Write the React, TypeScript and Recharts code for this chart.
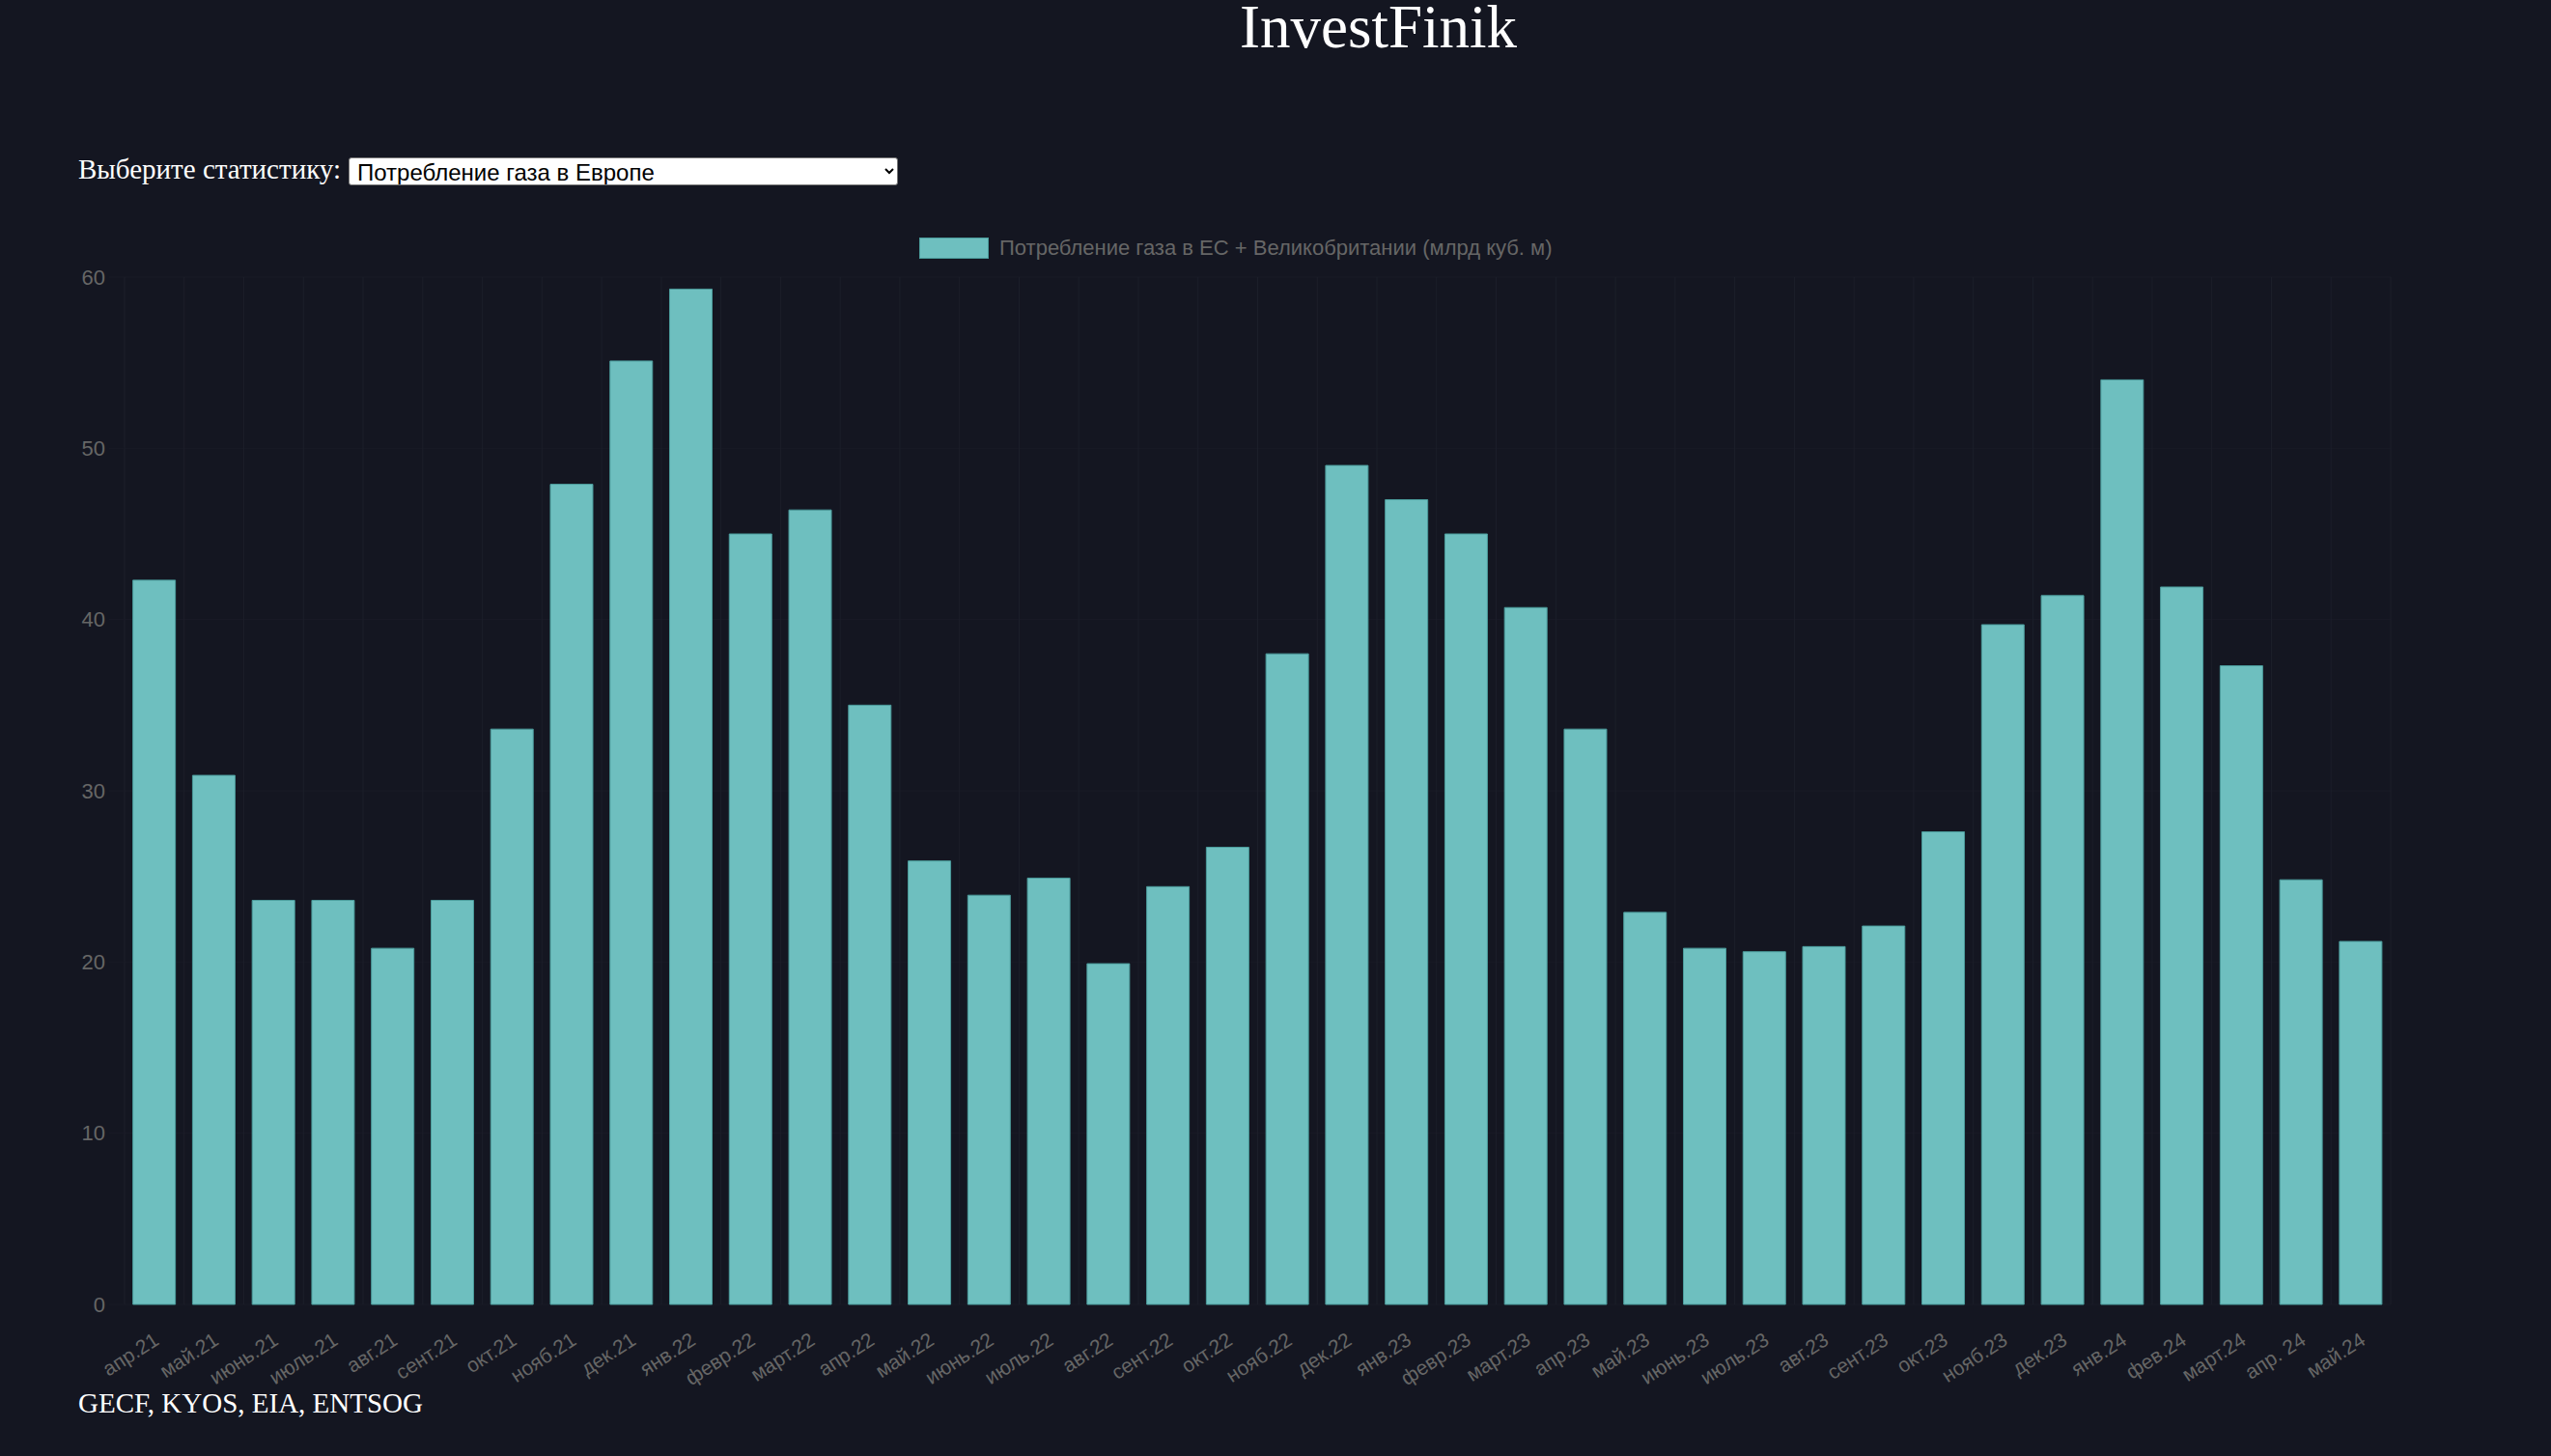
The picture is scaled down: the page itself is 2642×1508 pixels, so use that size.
import React from "react";
import { BarChart, Bar, XAxis, YAxis, CartesianGrid } from "recharts";

const months = [
  "апр.21", "май.21", "июнь.21", "июль.21", "авг.21", "сент.21", "окт.21", "нояб.21", "дек.21",
  "янв.22", "февр.22", "март.22", "апр.22", "май.22", "июнь.22", "июль.22", "авг.22", "сент.22",
  "окт.22", "нояб.22", "дек.22", "янв.23", "февр.23", "март.23", "апр.23", "май.23", "июнь.23",
  "июль.23", "авг.23", "сент.23", "окт.23", "нояб.23", "дек.23", "янв.24", "фев.24", "март.24",
  "апр. 24", "май.24",
];

const consumption = [
  42.3, 30.9, 23.6, 23.6, 20.8, 23.6, 33.6, 47.9, 55.1,
  59.3, 45.0, 46.4, 35.0, 25.9, 23.9, 24.9, 19.9, 24.4,
  26.7, 38.0, 49.0, 47.0, 45.0, 40.7, 33.6, 22.9, 20.8,
  20.6, 20.9, 22.1, 27.6, 39.7, 41.4, 54.0, 41.9, 37.3,
  24.8, 21.2,
];

const yTicks = [0, 10, 20, 30, 40, 50, 60];

const seriesName = "Потребление газа в ЕС + Великобритании (млрд куб. м)";

const data = months.map((m, i) => ({ month: m, value: consumption[i] }));

const BG = "#141621";
const GRID_V = "#1c1f2a";
const GRID_H = "#191b26";
const TICK = "#666666";
const FILL = "#6ebfbf";
const STROKE = "#4b9c9c";
const SANS = '"Liberation Sans", Arial, Helvetica, sans-serif';
const SERIF = '"Liberation Serif", "Times New Roman", serif';

const XTick = (props: any) => {
  const { x, y, payload } = props;
  const ax = x + 2;
  const ay = y + 26;
  return (
    <text
      x={ax}
      y={ay}
      transform={`rotate(-33, ${ax}, ${ay})`}
      textAnchor="end"
      dominantBaseline="central"
      fill={TICK}
      fontSize={21}
      fontFamily={SANS}
    >
      {payload.value}
    </text>
  );
};

export default function App() {
  const N = months.length;
  return (
    <div
      style={{
        position: "absolute",
        left: 0,
        top: 0,
        width: 2642,
        height: 1508,
        background: BG,
        overflow: "hidden",
      }}
    >
      <div style={{ position: "absolute", left: 0, top: 0 }}>
        <BarChart
          width={2642}
          height={1508}
          data={data}
          margin={{ top: 287, right: 166, bottom: 97, left: 49 }}
          barCategoryGap="14%"
        >
          <CartesianGrid stroke={GRID_H} strokeWidth={1} vertical={false} />
          <CartesianGrid
            stroke={GRID_V}
            strokeWidth={1}
            horizontal={false}
            verticalCoordinatesGenerator={({ offset }: any) =>
              Array.from({ length: N + 1 }, (_, i) => offset.left + (i * offset.width) / N)
            }
          />
          <XAxis
            dataKey="month"
            interval={0}
            height={60}
            axisLine={false}
            tickLine={false}
            tick={<XTick />}
          />
          <YAxis
            width={80}
            domain={[0, 60]}
            ticks={yTicks}
            axisLine={false}
            tickLine={{ stroke: GRID_H }}
            tickSize={16}
            tickMargin={4}
            tick={{ fill: TICK, fontSize: 22, fontFamily: SANS }}
          />
          <Bar
            dataKey="value"
            name={seriesName}
            fill={FILL}
            stroke={STROKE}
            strokeWidth={1}
            isAnimationActive={false}
          />
        </BarChart>
      </div>

      <div
        style={{
          position: "absolute",
          left: 952,
          top: 246,
          display: "flex",
          alignItems: "center",
          fontFamily: SANS,
        }}
      >
        <div
          style={{
            width: 72,
            height: 22,
            background: FILL,
            border: `1px solid ${STROKE}`,
            boxSizing: "border-box",
            marginRight: 11,
          }}
        />
        <span style={{ color: TICK, fontSize: 22, lineHeight: "22px", whiteSpace: "nowrap" }}>
          {seriesName}
        </span>
      </div>

      <div
        style={{
          position: "absolute",
          left: 1284,
          top: 0,
          fontFamily: SERIF,
          fontSize: 63,
          lineHeight: "56px",
          height: 60,
          color: "#ffffff",
          whiteSpace: "nowrap",
        }}
      >
        InvestFinik
      </div>

      <div
        style={{
          position: "absolute",
          left: 81,
          top: 161,
          fontFamily: SERIF,
          fontSize: 29,
          lineHeight: 1,
          color: "#ffffff",
          whiteSpace: "nowrap",
        }}
      >
        Выберите статистику:
      </div>

      <select
        defaultValue="gas"
        style={{
          position: "absolute",
          left: 361,
          top: 163,
          width: 569,
          height: 29,
          fontFamily: SANS,
          fontSize: 24,
          background: "#ffffff",
          color: "#000000",
          border: "1px solid #767676",
          borderRadius: 3,
          padding: "0 4px",
        }}
      >
        <option value="gas">Потребление газа в Европе</option>
      </select>

      <div
        style={{
          position: "absolute",
          left: 81,
          top: 1439,
          fontFamily: SERIF,
          fontSize: 29,
          lineHeight: 1,
          color: "#ffffff",
          whiteSpace: "nowrap",
        }}
      >
        GECF, KYOS, EIA, ENTSOG
      </div>
    </div>
  );
}
